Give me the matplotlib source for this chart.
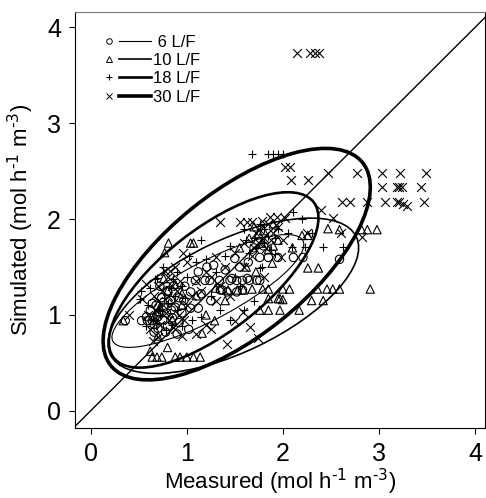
from matplotlib import pyplot as plt
from matplotlib.patches import Ellipse
from matplotlib.lines import Line2D
from matplotlib.legend_handler import HandlerBase

plt.rcParams['font.family'] = ['Liberation Sans', 'DejaVu Sans']
plt.rcParams['mathtext.default'] = 'regular'

# 6 L/F (circles)
x6 = [0.36, 0.53, 0.59, 0.64, 0.58, 0.66, 0.72, 0.79, 0.70, 0.75, 0.80, 0.85, 0.68, 0.88,
      0.92, 0.95, 0.62, 0.74, 0.83, 0.78, 0.90, 0.66, 1.04, 1.12, 0.97, 1.04, 1.09, 1.19,
      1.24, 1.34, 1.45, 1.52, 1.58, 1.65, 1.73, 1.35, 1.42, 1.52, 1.58, 1.37, 1.47, 1.63,
      1.76, 1.21, 1.28, 1.50, 1.64, 1.76, 1.85, 1.95, 2.11, 2.21, 2.59, 1.15, 1.25, 0.98,
      1.12, 1.40, 1.55, 1.70, 1.80, 1.02, 0.86, 0.72, 0.70, 0.76, 0.84, 0.64, 0.92, 0.80]
y6 = [0.94, 0.94, 0.94, 0.94, 0.98, 0.90, 1.02, 1.02, 0.86, 0.95, 0.88, 0.97, 1.10, 1.08,
      0.92, 1.02, 1.05, 1.18, 1.15, 0.82, 0.80, 0.82, 1.07, 1.07, 1.15, 1.24, 1.36, 1.36,
      1.36, 1.36, 1.36, 1.36, 1.36, 1.36, 1.36, 1.26, 1.24, 1.24, 1.26, 1.26, 1.38, 1.38,
      1.36, 1.50, 1.52, 1.59, 1.55, 1.60, 1.60, 1.60, 1.60, 1.60, 1.58, 1.22, 1.15, 1.30,
      1.45, 1.47, 1.50, 1.70, 1.72, 0.85, 1.30, 1.30, 0.98, 1.08, 1.05, 1.12, 1.18, 1.25]

# 10 L/F (triangles)
x10 = [0.81, 1.04, 1.07, 0.77, 2.47, 2.59, 2.82, 2.88, 2.98, 2.20, 2.26, 2.26, 2.37, 1.68,
       1.79, 1.85, 2.00, 2.07, 2.36, 2.46, 2.52, 2.59, 2.91, 2.30, 2.42, 1.95, 2.00, 1.85,
       1.97, 1.76, 1.85, 1.97, 2.17, 0.64, 0.69, 0.74, 0.88, 0.93, 1.00, 1.07, 1.14, 1.43,
       1.53, 1.59, 1.29, 1.16, 1.89, 0.34, 1.75, 1.80, 1.65, 1.95, 1.55, 1.40, 1.30, 0.95,
       0.85, 0.70, 1.10, 1.20, 1.62, 1.72, 2.10, 1.90, 0.62, 0.80, 0.72, 0.80, 0.88, 0.66,
       0.95, 1.78, 1.85, 1.70, 1.90, 0.76]
y10 = [1.75, 1.75, 1.75, 1.65, 1.90, 1.89, 1.89, 1.89, 1.89, 1.83, 1.83, 1.49, 1.49, 1.27,
       1.27, 1.27, 1.27, 1.27, 1.27, 1.27, 1.27, 1.27, 1.27, 1.15, 1.15, 1.17, 1.16, 1.17,
       1.17, 1.05, 1.05, 1.05, 1.05, 0.56, 0.56, 0.56, 0.56, 0.56, 0.56, 0.56, 0.56, 1.26,
       1.26, 1.26, 0.94, 0.81, 1.54, 0.94, 1.85, 1.88, 1.80, 1.78, 1.70, 1.15, 1.28, 1.10,
       0.95, 0.78, 1.20, 1.00, 1.50, 1.45, 1.70, 1.72, 0.62, 0.66, 1.08, 1.25, 1.32, 0.98,
       1.22, 1.75, 1.68, 1.92, 1.95, 1.38]

# 18 L/F (plus)
x18 = [1.68, 1.85, 1.90, 1.95, 2.00, 2.11, 2.20, 2.42, 2.63, 2.23, 2.10, 1.78, 1.92, 1.76,
       0.67, 0.51, 0.69, 0.52, 0.60, 0.72, 0.80, 0.88, 0.95, 0.85, 0.78, 0.95, 1.05, 1.00,
       1.10, 1.20, 1.30, 1.40, 1.50, 1.55, 1.65, 1.70, 1.80, 1.85, 1.95, 2.05, 1.60, 1.45,
       1.25, 1.35, 1.15, 0.90, 0.75, 1.02, 1.15, 2.30, 1.70, 1.60, 1.45, 0.65, 0.58, 0.70,
       0.76, 0.82, 0.68, 0.90, 0.98, 1.72, 1.80, 1.88, 1.76, 1.92, 1.62, 0.86, 0.62]
y18 = [2.675, 2.675, 2.675, 2.675, 2.675, 2.07, 2.00, 1.71, 1.71, 1.71, 1.71, 1.50, 1.64, 1.49,
       1.38, 1.17, 1.39, 1.25, 1.10, 1.00, 1.12, 1.20, 1.30, 0.90, 0.84, 0.88, 0.95, 1.40,
       1.55, 1.58, 1.45, 1.62, 1.40, 1.30, 1.65, 1.80, 1.90, 1.82, 1.90, 1.85, 1.90, 1.72,
       1.20, 1.05, 0.98, 1.45, 1.50, 1.62, 1.78, 1.85, 1.15, 1.05, 0.95, 0.95, 0.88, 1.05,
       1.18, 1.30, 0.92, 1.05, 1.18, 1.70, 1.75, 1.68, 1.95, 1.80, 1.78, 1.38, 1.28]

# 30 L/F (cross)
x30 = [2.15, 2.28, 2.33, 2.38, 2.47, 2.77, 3.03, 3.22, 3.49, 3.03, 3.19, 3.21, 3.24, 3.44,
       2.62, 2.70, 2.88, 3.06, 3.19, 3.21, 3.25, 3.29, 3.47, 2.02, 2.07, 2.08, 2.26, 2.52,
       2.61, 2.82, 2.25, 1.74, 1.66, 1.59, 1.50, 1.42, 1.35, 1.55, 1.63, 1.68, 1.87, 1.94,
       2.02, 0.77, 0.83, 0.96, 0.53, 0.65, 0.70, 0.60, 0.68, 0.75, 0.80, 0.85, 0.90, 0.72,
       0.82, 0.92, 1.00, 1.05, 0.88, 1.00, 1.10, 1.20, 1.30, 1.40, 1.50, 1.60, 1.70, 1.75,
       1.80, 1.85, 1.90, 1.30, 1.20, 1.10, 1.25, 0.95, 0.62, 0.70, 0.58, 1.45, 1.60, 2.00,
       2.40, 1.80, 1.98, 0.40, 0.65, 0.70, 0.78, 0.74, 0.86, 0.93, 0.80, 0.66, 0.88, 0.97,
       1.75, 1.82, 1.88, 1.72, 1.95, 1.68, 1.78, 1.15, 1.25, 1.35]
y30 = [3.73, 3.73, 3.73, 3.73, 2.48, 2.48, 2.48, 2.48, 2.48, 2.33, 2.33, 2.33, 2.33, 2.33,
       2.18, 2.18, 2.18, 2.18, 2.18, 2.18, 2.16, 2.14, 2.18, 2.54, 2.54, 2.41, 2.41, 2.01,
       1.85, 1.81, 1.85, 0.76, 0.87, 1.03, 0.94, 0.70, 1.97, 1.97, 1.97, 1.97, 2.02, 2.02,
       2.01, 1.46, 1.46, 1.65, 1.17, 0.73, 0.77, 1.00, 1.05, 1.10, 1.20, 1.30, 1.25, 0.90,
       0.95, 1.00, 1.10, 1.20, 1.50, 1.55, 1.35, 1.45, 1.60, 1.50, 1.65, 1.75, 1.70, 1.90,
       1.80, 1.95, 1.85, 1.15, 0.90, 0.80, 0.85, 0.78, 0.85, 1.30, 1.32, 1.20, 1.50, 1.78,
       2.10, 1.40, 1.60, 1.00, 0.95, 1.15, 1.02, 1.25, 1.12, 1.35, 1.40, 1.20, 0.85, 0.95,
       1.75, 1.70, 1.78, 1.85, 1.92, 1.62, 1.98, 1.25, 1.40, 1.30]

labels = [' 6 L/F', '10 L/F', '18 L/F', '30 L/F']
markers = ['o', '^', '+', 'x']

# ellipse parameters: centre x, centre y, width, height, angle
ell_cx = [1.22, 1.485, 1.28, 1.52]
ell_cy = [1.25, 1.20, 1.365, 1.53]
ell_w = [2.24, 2.84, 2.64, 3.37]
ell_h = [0.60, 1.17, 1.07, 1.49]
ell_ang = [28, 25.7, 38, 39]
ell_lw = [0.8, 1.2, 1.9, 2.6]


class LegendKey:
    def __init__(self, marker, lw):
        self.marker = marker
        self.lw = lw


class KeyHandler(HandlerBase):
    def create_artists(self, legend, orig, xdescent, ydescent, width, height, fontsize, trans):
        y = height / 2 - ydescent
        m = Line2D([0.1 * width - xdescent], [y], marker=orig.marker, ms=4, mfc='none',
                   mec='black', mew=0.7, ls='none', transform=trans)
        ln = Line2D([0.33 * width - xdescent, width - xdescent], [y, y], color='black',
                    lw=orig.lw, transform=trans)
        return [m, ln]


fig = plt.figure(figsize=(4.86, 4.98), dpi=100)
ax = fig.add_axes([0.154, 0.1406, 0.844, 0.835])

series = [(x6, y6), (x10, y10), (x18, y18), (x30, y30)]
for (xs, ys), mk in zip(series, markers):
    if mk in ('+', 'x'):
        ax.scatter(xs, ys, marker=mk, s=40, color='black', linewidths=0.8, zorder=3)
    else:
        ax.scatter(xs, ys, marker=mk, s=36, facecolors='none', edgecolors='black',
                   linewidths=0.8, zorder=3)

for i in range(4):
    ax.add_patch(Ellipse((ell_cx[i], ell_cy[i]), ell_w[i], ell_h[i], angle=ell_ang[i],
                         fill=False, edgecolor='black', lw=ell_lw[i], zorder=4))

ax.plot([-0.5, 4.5], [-0.5, 4.5], color='black', lw=1.0, zorder=2)

ax.set_xlim(-0.165, 4.105)
ax.set_ylim(-0.18, 4.16)
ax.set_xticks([0, 1, 2, 3, 4])
ax.set_yticks([0, 1, 2, 3, 4])
ax.tick_params(direction='out', length=4, width=0.8, labelsize=18, pad=6)
ax.tick_params(top=False, right=False)
for sp in ax.spines.values():
    sp.set_linewidth(0.8)
ax.spines['top'].set_color('0.45')

ax.set_xlabel('Measured (mol h$^{\\text{-1}}$ m$^{\\text{-3}}$)', fontsize=16, labelpad=1)
ax.set_ylabel('Simulated (mol h$^{\\text{-1}}$ m$^{\\text{-3}}$)', fontsize=16, labelpad=8)

keys = [LegendKey(m, lw) for m, lw in zip(markers, ell_lw)]
ax.legend(keys, labels, handler_map={LegendKey: KeyHandler()}, loc='upper left',
          bbox_to_anchor=(0.055, 0.962), frameon=False, fontsize=12, handlelength=2.8,
          handletextpad=0.15, labelspacing=0.2, borderaxespad=0)

fig.savefig('out.png', dpi=100)
